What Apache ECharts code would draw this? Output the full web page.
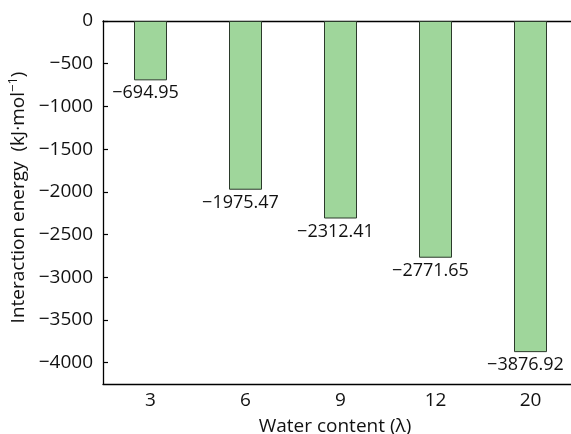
<!DOCTYPE html>
<html><head><meta charset="utf-8">
<script src="https://cdn.jsdelivr.net/npm/echarts@6/dist/echarts.min.js"></script>
<style>html,body{margin:0;padding:0;background:#fff}#c{width:571px;height:434px}</style>
</head><body><div id="c"></div>
<script>
const categories = ['3', '6', '9', '12', '20'];
const energies = [-694.95, -1975.47, -2312.41, -2771.65, -3876.92];
const yTicks = [0, -500, -1000, -1500, -2000, -2500, -3000, -3500, -4000];

const minus = s => String(s).replace('-', '\u2212');
const FONT = 'Open Sans';
const FS = 19;
const chart = echarts.init(document.getElementById('c'));
chart.setOption({
  animation: false,
  textStyle: { fontFamily: FONT },
  grid: { left: 103, top: 21, width: 475, height: 363, containLabel: false, outerBoundsMode: 'none' },
  xAxis: [{
    type: 'category', data: categories, position: 'bottom',
    axisLine: { onZero: false, lineStyle: { color: '#000', width: 1.3 } },
    axisTick: { inside: true, alignWithLabel: true, length: 5, lineStyle: { color: '#000', width: 1.2 } },
    axisLabel: { color: '#111', fontSize: FS, fontFamily: FONT, margin: 7 },
    name: 'Water content (λ)', nameLocation: 'middle', nameGap: 33,
    nameTextStyle: { color: '#111', fontSize: 19, fontFamily: FONT, padding: [0, 11, 0, 0] }
  }, {
    type: 'category', data: categories, position: 'top',
    axisLine: { onZero: false, lineStyle: { color: '#000', width: 1.3 } },
    axisTick: { show: false }, axisLabel: { show: false }
  }],
  yAxis: {
    type: 'value', min: -4250, max: 0,
    splitLine: { show: false },
    axisLine: { show: true, onZero: false, lineStyle: { color: '#000', width: 1.3 } },
    axisTick: { show: true, inside: true, length: 5, customValues: yTicks, lineStyle: { color: '#000', width: 1.2 } },
    axisLabel: { color: '#111', fontSize: FS, fontFamily: FONT, margin: 10, customValues: yTicks, formatter: v => minus(v) },
    name: 'Interaction energy  (kJ\u00b7mol{sup|\u22121})', nameLocation: 'middle', nameGap: 60, nameRotate: 90,
    nameTextStyle: { color: '#111', fontSize: 19, fontFamily: FONT, padding: [0, 0, 0, 10],
      rich: { sup: { fontSize: 13, fontFamily: FONT, color: '#111', padding: [0, 0, 10, 0] } } }
  },
  series: [{
    type: 'bar', data: energies, barWidth: 33, xAxisIndex: 0,
    itemStyle: { color: '#9fd69b', borderColor: '#2b3a2b', borderWidth: 1 },
    label: { show: true, position: 'bottom', distance: 4, offset: [-5, 0], color: '#111', fontSize: 18, fontFamily: FONT,
      formatter: p => minus(p.value.toFixed(2)) }
  }]
});
</script></body></html>
